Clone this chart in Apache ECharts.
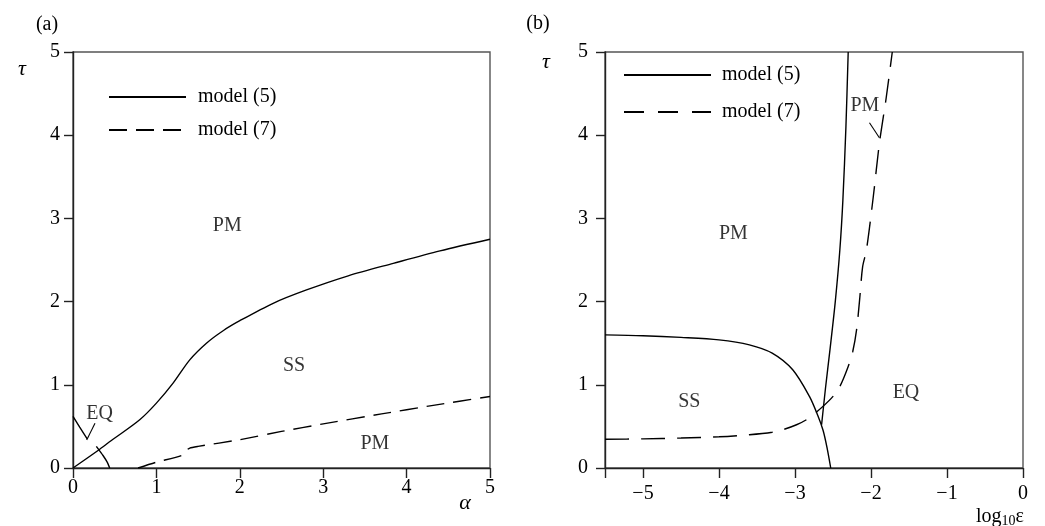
<!DOCTYPE html>
<html><head><meta charset="utf-8">
<script src="https://cdn.jsdelivr.net/npm/echarts@6/dist/echarts.min.js"></script>
<style>html,body{margin:0;padding:0;background:#fff}#c{width:1045px;height:526px}</style>
</head><body><div id="c"></div>
<script>
// ---- data ----
const yTicks = [0, 1, 2, 3, 4, 5];
const xTicksA = [0, 1, 2, 3, 4, 5];
const xLabelsB = [-5, -4, -3, -2, -1, 0];
const xTickMarksB = [-5.5, -5, -4, -3, -2, -1, 0];
const seriesNames = ['model (5)', 'model (7)'];

// panel (a): tau vs alpha
const a5Main = [[0,0],[0.3,0.21],[0.46,0.33],[0.8,0.58],[1.0,0.78],[1.2,1.02],[1.4,1.3],[1.6,1.5],[1.8,1.65],[2.0,1.77],[2.4,1.98],[2.8,2.14],[3.3,2.31],[3.84,2.46],[4.4,2.61],[5,2.75]];
const a5EqUpper = [[0,0.62],[0.08,0.49],[0.17,0.35]];
const a5EqLower = [[0.28,0.26],[0.36,0.15],[0.41,0.07],[0.44,0]];
const a7 = [[0.78,0],[1.0,0.07],[1.3,0.15],[1.34,0.2],[1.4,0.24],[1.5,0.26],[2.0,0.34],[2.5,0.44],[3.0,0.53],[3.7,0.65],[4.3,0.75],[5,0.86]];
const pointerA = [[0.264,0.537],[0.164,0.337]];
const regionsA = [['PM',1.85,2.91],['SS',2.65,1.23],['EQ',0.32,0.65],['PM',3.62,0.29]];

// panel (b): tau vs log10 eps
const b5Horizontal = [[-5.5,1.6],[-5,1.59],[-4.5,1.57],[-4.0,1.54],[-3.6,1.48],[-3.3,1.38],[-3.03,1.18],[-2.81,0.86],[-2.7,0.63],[-2.63,0.45],[-2.58,0.25],[-2.53,0]];
const b5Vertical = [[-2.65,0.52],[-2.6,0.95],[-2.54,1.42],[-2.47,2.0],[-2.41,2.62],[-2.37,3.22],[-2.33,4.1],[-2.3,5.0]];
const b7 = [[-5.5,0.345],[-5,0.35],[-4.5,0.36],[-4.0,0.375],[-3.6,0.4],[-3.3,0.43],[-3.16,0.46],[-2.98,0.52],[-2.85,0.58],[-2.72,0.67],[-2.52,0.84],[-2.41,0.98],[-2.3,1.22],[-2.24,1.4],[-2.19,1.66],[-2.15,2.02],[-2.11,2.42],[-2.06,2.62],[-1.97,3.26],[-1.89,3.9],[-1.8,4.45],[-1.72,5.0]];
const pointerB = [[-2.02,4.15],[-1.89,3.97]];
const regionsB = [['PM',-3.81,2.81],['SS',-4.39,0.8],['EQ',-1.54,0.91],['PM',-2.08,4.35]];

// ---- chart ----
const FONT = 'Liberation Serif';
const TXT = '#000';
const chart = echarts.init(document.getElementById('c'), null, {renderer: 'canvas'});
const axisLineStyle = {color: '#222', width: 1.4};
const dashA = [18, 9];
const dashB = [24, 12];

function lineSeries(name, data, xi, dashed, dash, smooth) {
  return {
    type: 'line', name: name, data: data, xAxisIndex: xi, yAxisIndex: xi,
    symbol: 'none', showSymbol: false, smooth: smooth === undefined ? 0.3 : smooth, silent: true, z: 3,
    itemStyle: {color: '#000'},
    lineStyle: {color: '#000', width: 1.4, type: dashed ? dash : 'solid'}
  };
}
function pointer(data, xi) {
  return {type: 'line', name: 'pointer', data: data, xAxisIndex: xi, yAxisIndex: xi,
    symbol: 'none', silent: true, itemStyle: {color: '#000'}, lineStyle: {color: '#000', width: 1.1}};
}
function regions(list, xi) {
  return {
    type: 'scatter', name: 'regions', xAxisIndex: xi, yAxisIndex: xi, silent: true,
    symbolSize: 0, itemStyle: {color: '#000'},
    data: list.map(r => [r[1], r[2], r[0]]),
    label: {show: true, position: 'inside', formatter: p => p.value[2],
      fontFamily: FONT, fontSize: 20, color: TXT, textBorderWidth: 0}
  };
}
function xAxisBase(gi) {
  return {
    type: 'value', gridIndex: gi, splitLine: {show: false},
    axisLine: {show: true, onZero: false, lineStyle: axisLineStyle},
    axisTick: {show: true, length: 10, lineStyle: axisLineStyle},
    axisLabel: {fontFamily: FONT, fontSize: 20, color: TXT}
  };
}
function yAxisBase(gi, margin) {
  return {
    type: 'value', gridIndex: gi, min: 0, max: 5, interval: 1, splitLine: {show: false},
    axisLine: {show: true, onZero: false, lineStyle: axisLineStyle},
    axisTick: {show: true, length: 9, lineStyle: axisLineStyle},
    axisLabel: {fontFamily: FONT, fontSize: 20, color: TXT, margin: margin}
  };
}
const xA = xAxisBase(0);
Object.assign(xA, {min: 0, max: 5, interval: 1});
xA.axisLabel.margin = 10;
const xB = xAxisBase(1);
Object.assign(xB, {min: -5.5, max: 0});
xB.axisTick.customValues = xTickMarksB;
xB.axisLabel.customValues = xLabelsB;
xB.axisLabel.margin = 16;
xB.axisLabel.formatter = v => (v < 0 ? '\u2212' + Math.abs(v) : String(v));

const legendText = {fontFamily: FONT, fontSize: 20, color: TXT, padding: [0, 0, 0, 7]};
const legendItem = {color: 'rgba(0,0,0,0)', borderWidth: 0};

const option = {
  animation: false,
  backgroundColor: '#fff',
  grid: [
    {left: 73, top: 52, width: 417, height: 416, show: true, borderColor: '#555', borderWidth: 1.4, backgroundColor: 'transparent'},
    {left: 605, top: 52, width: 418, height: 416, show: true, borderColor: '#555', borderWidth: 1.4, backgroundColor: 'transparent'}
  ],
  xAxis: [xA, xB],
  yAxis: [yAxisBase(0, 13), yAxisBase(1, 17)],
  legend: [
    {left: 108, top: 87, orient: 'vertical', itemWidth: 77, itemHeight: 14, itemGap: 13, padding: 0,
      selectedMode: false, textStyle: legendText, itemStyle: legendItem,
      data: [{name: seriesNames[0]}, {name: seriesNames[1], lineStyle: {type: dashA}}]},
    {left: 623, top: 65, orient: 'vertical', itemWidth: 87, itemHeight: 14, itemGap: 17, padding: 0,
      selectedMode: false, textStyle: Object.assign({}, legendText, {padding: [0, 0, 0, 6]}), itemStyle: legendItem,
      data: [{name: seriesNames[0]}, {name: seriesNames[1], lineStyle: {type: [20, 14]}}]}
  ],
  series: [
    lineSeries(seriesNames[0], a5Main, 0, false),
    lineSeries(seriesNames[0], a5EqUpper, 0, false, null, false),
    lineSeries(seriesNames[0], a5EqLower, 0, false, null, 0.2),
    lineSeries(seriesNames[1], a7, 0, true, dashA, 0.2),
    pointer(pointerA, 0),
    regions(regionsA, 0),
    lineSeries(seriesNames[0], b5Horizontal, 1, false),
    lineSeries(seriesNames[0], b5Vertical, 1, false),
    lineSeries(seriesNames[1], b7, 1, true, dashB),
    pointer(pointerB, 1),
    regions(regionsB, 1)
  ],
  graphic: [
    {type: 'text', x: 47, y: 25, style: {text: '(a)', font: '20px "Liberation Serif"', fill: TXT, textAlign: 'center', textVerticalAlign: 'middle'}},
    {type: 'text', x: 538, y: 24, style: {text: '(b)', font: '20px "Liberation Serif"', fill: TXT, textAlign: 'center', textVerticalAlign: 'middle'}},
    {type: 'text', x: 22, y: 69, style: {text: '\u03c4', font: 'italic 22px "Liberation Serif"', fill: TXT, textAlign: 'center', textVerticalAlign: 'middle'}},
    {type: 'text', x: 546, y: 62, style: {text: '\u03c4', font: 'italic 22px "Liberation Serif"', fill: TXT, textAlign: 'center', textVerticalAlign: 'middle'}},
    {type: 'text', x: 465, y: 503, style: {text: '\u03b1', font: 'italic 22px "Liberation Serif"', fill: TXT, textAlign: 'center', textVerticalAlign: 'middle'}},
    {type: 'text', x: 976, y: 505, style: {
      text: '{n|log}{s|10}{n|\u03b5}', fill: TXT, textAlign: 'left', textVerticalAlign: 'top',
      rich: {n: {fontFamily: FONT, fontSize: 20, color: TXT}, s: {fontFamily: FONT, fontSize: 14, color: TXT, padding: [9, 0, 0, 0]}}
    }}
  ]
};
chart.setOption(option);
</script>
</body></html>
